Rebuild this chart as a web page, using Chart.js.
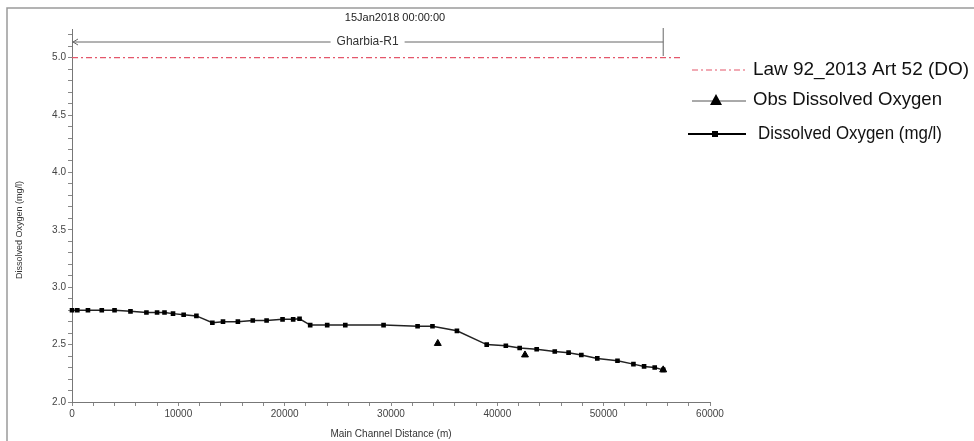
<!DOCTYPE html>
<html>
<head>
<meta charset="utf-8">
<script src="https://cdn.jsdelivr.net/npm/chart.js@4/dist/chart.umd.min.js"></script>
<style>
  html, body { margin:0; padding:0; background:#fff; }
  #wrap { position:relative; width:974px; height:441px; }
</style>
</head>
<body>
<div id="wrap"><canvas id="profile" width="974" height="441"></canvas></div>
<script>
// === Profile data (distance in m, DO in mg/l) ===
const simDist = [0, 500, 1500, 2800, 4000, 5500, 7000, 8000, 8700, 9500, 10500, 11700,
  13200, 14200, 15600, 17000, 18300, 19800, 20800, 21400, 22400, 24000, 25700, 29300,
  32500, 33900, 36200, 39000, 40800, 42100, 43700, 45400, 46700, 47900, 49400, 51300,
  52800, 53800, 54800, 55600];
const simDO = [2.80, 2.80, 2.80, 2.80, 2.80, 2.79, 2.78, 2.78, 2.78, 2.77, 2.76, 2.75,
  2.69, 2.70, 2.70, 2.71, 2.71, 2.72, 2.72, 2.725, 2.67, 2.67, 2.67, 2.67,
  2.66, 2.66, 2.62, 2.50, 2.49, 2.47, 2.46, 2.44, 2.43, 2.41, 2.38, 2.36,
  2.33, 2.31, 2.30, 2.28];
const obsDist = [34400, 42600, 55600];
const obsDO = [2.51, 2.41, 2.28];
const lawDist = [0, 57200];
const lawDO = [5.0, 5.0];

const reachName = 'Gharbia-R1';
const reachStart = 0, reachEnd = 55600;
const profileTime = '15Jan2018 00:00:00';
const legendLabels = ['Law 92_2013 Art 52 (DO)', 'Obs Dissolved Oxygen', 'Dissolved Oxygen (mg/l)'];

const pts = (xs, ys) => xs.map((x, i) => ({x, y: ys[i]}));
const FONT = '"Liberation Sans", Arial, sans-serif';
const RED = '#e4576b';

// text squeezed/stretched to a given width
function fitText(ctx, txt, x, y, w){
  const m = ctx.measureText(txt).width;
  ctx.save();
  ctx.translate(x, y);
  ctx.scale(w / m, 1);
  ctx.fillText(txt, 0, 0);
  ctx.restore();
}

// === Decorations: time stamp, reach bracket, axis titles, legend, frame ===
const extras = {
  id: 'extras',
  afterDraw(chart){
    const {ctx, chartArea, scales:{x}} = chart;
    ctx.save();

    // frame
    ctx.strokeStyle = '#9a9a9a'; ctx.lineWidth = 1.5;
    ctx.beginPath(); ctx.moveTo(7, 441); ctx.lineTo(7, 8); ctx.lineTo(974, 8); ctx.stroke();

    // time stamp
    ctx.fillStyle = '#222'; ctx.font = '11px ' + FONT;
    ctx.textAlign = 'center'; ctx.textBaseline = 'middle';
    ctx.fillText(profileTime, (chartArea.left + chartArea.right) / 2 + 4, 18);

    // reach bracket
    const x0 = x.getPixelForValue(reachStart), x1 = x.getPixelForValue(reachEnd);
    const yb = 42, xm = (x0 + x1) / 2;
    ctx.font = '12px ' + FONT;
    const tw = ctx.measureText(reachName).width;
    ctx.strokeStyle = '#666'; ctx.lineWidth = 1;
    ctx.beginPath();
    ctx.moveTo(x0, yb); ctx.lineTo(xm - tw / 2 - 6, yb);
    ctx.moveTo(xm + tw / 2 + 6, yb); ctx.lineTo(x1, yb);
    ctx.moveTo(x0 + 6, yb - 3); ctx.lineTo(x0 + 1, yb); ctx.lineTo(x0 + 6, yb + 3);
    ctx.moveTo(x1, 28); ctx.lineTo(x1, 56);
    ctx.stroke();
    ctx.fillStyle = '#333';
    ctx.fillText(reachName, xm, yb);

    // axis titles
    ctx.fillStyle = '#333'; ctx.font = '10px ' + FONT;
    ctx.fillText('Main Channel Distance (m)', (chartArea.left + chartArea.right) / 2, 434);
    ctx.save();
    ctx.translate(20, 230); ctx.rotate(-Math.PI / 2);
    ctx.font = '9px ' + FONT;
    ctx.fillText('Dissolved Oxygen (mg/l)', 0, 0);
    ctx.restore();

    // legend
    const ds = chart.data.datasets;
    ctx.textAlign = 'left'; ctx.textBaseline = 'middle';
    ctx.font = '19px ' + FONT; ctx.fillStyle = '#111';

    ctx.strokeStyle = ds[0].borderColor; ctx.lineWidth = 1.2;
    ctx.setLineDash(ds[0].borderDash);
    ctx.beginPath(); ctx.moveTo(692, 70); ctx.lineTo(745, 70); ctx.stroke();
    ctx.setLineDash([]);
    fitText(ctx, legendLabels[0], 753, 70, 216);

    ctx.strokeStyle = '#555'; ctx.lineWidth = 1;
    ctx.beginPath(); ctx.moveTo(692, 101); ctx.lineTo(746, 101); ctx.stroke();
    ctx.fillStyle = '#000';
    ctx.beginPath(); ctx.moveTo(716, 94); ctx.lineTo(722, 105); ctx.lineTo(710, 105); ctx.closePath(); ctx.fill();
    ctx.fillStyle = '#111';
    fitText(ctx, legendLabels[1], 753, 100, 189);

    ctx.strokeStyle = '#000'; ctx.lineWidth = 2;
    ctx.beginPath(); ctx.moveTo(688, 134); ctx.lineTo(746, 134); ctx.stroke();
    ctx.fillStyle = '#000'; ctx.fillRect(712, 131, 6, 6);
    ctx.fillStyle = '#111';
    fitText(ctx, legendLabels[2], 758, 134, 184);

    ctx.restore();
  }
};

new Chart(document.getElementById('profile'), {
  type: 'line',
  data: {
    datasets: [
      {label: legendLabels[0], data: pts(lawDist, lawDO), borderColor: RED, borderWidth: 1.2,
       borderDash: [6, 3, 2, 3], pointRadius: 0},
      {label: legendLabels[1], data: pts(obsDist, obsDO), showLine: false, pointStyle: 'triangle',
       pointRadius: 4, backgroundColor: '#000', borderColor: '#000', borderWidth: 1},
      {label: legendLabels[2], data: pts(simDist, simDO), borderColor: '#222', borderWidth: 1.5,
       pointStyle: 'rect', pointRadius: 2.2, backgroundColor: '#000', pointBorderColor: '#000'}
    ]
  },
  options: {
    responsive: false,
    animation: false,
    clip: false,
    layout: {padding: {left: 0, right: 264, top: 29, bottom: 0}},
    plugins: {legend: {display: false}, tooltip: {enabled: false}},
    scales: {
      x: {
        type: 'linear', min: 0, max: 60000,
        afterFit: s => { s.height = 39; },
        border: {color: '#777', width: 1},
        grid: {drawOnChartArea: false, tickLength: 4, color: '#888'},
        ticks: {stepSize: 2000, autoSkip: false, maxTicksLimit: 100, maxRotation: 0, padding: 2,
                color: '#444', font: {family: FONT, size: 10},
                callback: v => v % 10000 === 0 ? String(v) : ''}
      },
      y: {
        type: 'linear', min: 2, max: 5.25,
        afterFit: s => { s.width = 72; },
        border: {color: '#777', width: 1},
        grid: {drawOnChartArea: false, tickLength: 4, color: '#888'},
        ticks: {stepSize: 0.1, includeBounds: false, autoSkip: false, maxTicksLimit: 100, padding: 2,
                color: '#444', font: {family: FONT, size: 10},
                callback: v => Math.abs(v * 2 - Math.round(v * 2)) < 1e-6 ? v.toFixed(1) : ''}
      }
    }
  },
  plugins: [extras]
});
</script>
</body>
</html>
